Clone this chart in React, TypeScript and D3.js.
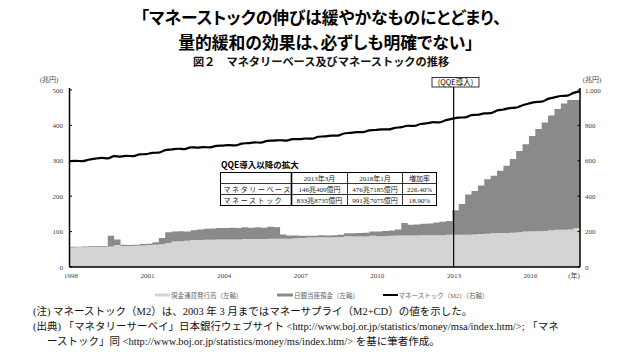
import React from "react";
import * as d3 from "d3";

// ---- data (quarterly, 1998Q1 .. 2017Q4, plus Jan 2018) ----
const startYear = 1998;
const stepYears = 0.25;
// 現金通貨発行高 (兆円, left axis)
const currency = [
  55, 56, 56, 57,
  57, 57, 58, 62,
  59, 59, 60, 61,
  62, 63, 64, 68,
  72, 73, 74, 76,
  76, 77, 77, 78,
  78, 78, 78, 79,
  79, 79, 79, 80,
  80, 80, 80, 81,
  82, 83, 83, 84,
  84, 84, 85, 87,
  86, 86, 86, 88,
  87, 87, 88, 89,
  89, 89, 89, 90,
  90, 90, 90, 91,
  91, 91, 91, 92,
  93, 94, 95, 96,
  96, 97, 98, 100,
  101, 101, 102, 104,
  105, 105, 106, 110,
  111,
];
// 日銀当座預金 (兆円, left axis, stacked)
const currentAccount = [
  2, 1, 2, 2,
  2, 2, 30, 16,
  4, 3, 3, 4,
  4, 7, 18, 30,
  28, 28, 26, 28,
  30, 31, 32, 32,
  32, 33, 32, 33,
  32, 33, 32, 34,
  32, 12, 9, 8,
  6, 5, 5, 6,
  5, 6, 6, 8,
  9, 10, 11, 12,
  13, 15, 15, 17,
  35, 30, 31, 32,
  33, 36, 38, 39,
  69, 87, 114, 123,
  137, 154, 163, 176,
  190, 208, 230, 247,
  269, 289, 306, 324,
  341, 357, 366, 362,
  365,
];
// マネーストック (M2) (兆円, right axis)
const moneyStock = [
  598, 600, 598, 606,
  612, 616, 614, 626,
  624, 628, 626, 636,
  638, 645, 646, 660,
  664, 668, 666, 676,
  675, 677, 676, 684,
  686, 688, 687, 697,
  700, 704, 703, 713,
  714, 716, 714, 722,
  722, 726, 725, 736,
  738, 742, 742, 754,
  758, 762, 762, 772,
  774, 778, 777, 786,
  790, 798, 797, 808,
  812, 818, 817, 830,
  838, 844, 845, 858,
  860, 868, 869, 884,
  890, 898, 900, 914,
  924, 932, 934, 950,
  958, 966, 968, 984,
  992,
];
const qqeDate = 2013.05;
const xTickYears = [1998, 2001, 2004, 2007, 2010, 2013, 2016];
const leftTicks = [0, 100, 200, 300, 400, 500];
const rightTicks = [0, 200, 400, 600, 800, 1000];
const tableHeader = ["", "2013年3月", "2018年1月", "増加率"];
const tableRows = [
  ["マネタリーベース", "146兆409億円", "476兆7185億円", "226.40%"],
  ["マネーストック", "833兆8735億円", "991兆7075億円", "18.90%"],
];
const legendItems = ["現金通貨発行高（左軸）", "日銀当座預金（左軸）", "マネーストック（M2）（右軸）"];

const rows = currency.map((c, i) => ({
  date: startYear + i * stepYears,
  currency: c,
  current: currentAccount[i],
  m2: moneyStock[i],
}));

const SERIF = "'Liberation Serif','Noto Sans CJK JP',serif";
const SANS = "'Noto Sans CJK JP','Noto Sans',sans-serif";

export default function App() {
  const left = 69.5, right = 580, top = 90, bottom = 267;
  const x = d3.scaleLinear().domain([1998, 2018]).range([left, right]);
  const yL = d3.scaleLinear().domain([0, 500]).range([bottom, top]);
  const yR = d3.scaleLinear().domain([0, 1000]).range([bottom, top]);

  const stack = d3.stack<any>().keys(["currency", "current"]);
  const series = stack(rows);
  const area = d3
    .area<any>()
    .x((d) => x(d.data.date))
    .y0((d) => yL(d[0]))
    .y1((d) => yL(d[1]))
    .curve(d3.curveStepAfter);
  const line = d3
    .line<any>()
    .x((d) => x(d.date))
    .y((d) => yR(d.m2))
    .curve(d3.curveMonotoneX);

  const fills = ["#d4d4d4", "#8a8a8a"];
  const fmt = d3.format(",");
  const qx = x(qqeDate);

  // table geometry
  const tX = [220.5, 291.5, 347.5, 402.5, 436.5];
  const tY = [172.5, 183.5, 194.5, 205.5];
  const titleStyle = { fontFeatureSettings: "'palt'" } as any;

  return (
    <svg width={640} height={360} style={{ position: "absolute", left: 0, top: 0, background: "#fff" }}>
      <rect width={640} height={360} fill="#fff" />
      {/* titles */}
      <text x={321} y={24} textAnchor="middle" fontFamily={SANS} fontWeight={700} fontSize={16.8} fill="#000" style={titleStyle}>
        「マネーストックの伸びは緩やかなものにとどまり、
      </text>
      <text x={326} y={49} textAnchor="middle" fontFamily={SANS} fontWeight={700} fontSize={16.8} fill="#000" style={titleStyle}>
        量的緩和の効果は、必ずしも明確でない」
      </text>
      <text x={321} y={66} textAnchor="middle" fontFamily={SANS} fontWeight={700} fontSize={11.2} fill="#111">
        図２　マネタリーベース及びマネーストックの推移
      </text>

      {/* areas */}
      {series.map((s, i) => (
        <path key={i} d={area(s) || ""} fill={fills[i]} />
      ))}

      {/* QQE line */}
      <line x1={qx} x2={qx} y1={bottom} y2={86} stroke="#000" strokeWidth={1.2} />
      <rect x={432} y={77.5} width={47} height={9.5} fill="#fff" stroke="#000" strokeWidth={0.8} />
      <text x={455.5} y={85.3} textAnchor="middle" fontFamily={SANS} fontSize={7.5} fill="#000">
        (QQE導入)
      </text>

      {/* M2 line */}
      <path d={line(rows) || ""} fill="none" stroke="#000" strokeWidth={2.2} strokeLinejoin="round" />

      {/* axes */}
      <line x1={left} x2={left} y1={top - 2} y2={bottom} stroke="#000" strokeWidth={1.5} />
      <line x1={right} x2={right} y1={top - 2} y2={bottom} stroke="#000" strokeWidth={1.5} />
      <line x1={left} x2={right} y1={bottom} y2={bottom} stroke="#000" strokeWidth={1.6} />
      {leftTicks.map((t) => (
        <g key={"l" + t}>
          <line x1={left} x2={left + 2.5} y1={yL(t)} y2={yL(t)} stroke="#000" strokeWidth={1} />
          <text x={63} y={yL(t) + 2.5} textAnchor="end" fontFamily={SERIF} fontSize={7} fill="#444">
            {t}
          </text>
        </g>
      ))}
      {rightTicks.map((t) => (
        <g key={"r" + t}>
          <line x1={right - 2.5} x2={right} y1={yR(t)} y2={yR(t)} stroke="#000" strokeWidth={1} />
          <text x={585} y={yR(t) + 2.5} textAnchor="start" fontFamily={SERIF} fontSize={7} fill="#444">
            {fmt(t)}
          </text>
        </g>
      ))}
      <text x={49} y={82} textAnchor="middle" fontFamily={SERIF} fontSize={7} fill="#444">(兆円)</text>
      <text x={592} y={82} textAnchor="middle" fontFamily={SERIF} fontSize={7} fill="#444">(兆円)</text>
      {xTickYears.map((yv) => (
        <text key={yv} x={x(yv) + 1.5} y={278} textAnchor="middle" fontFamily={SERIF} fontSize={7} fill="#444">
          {yv}
        </text>
      ))}
      <text x={574} y={278} textAnchor="middle" fontFamily={SERIF} fontSize={7} fill="#444">(年)</text>

      {/* table */}
      <text x={221} y={168} fontFamily={SANS} fontWeight={700} fontSize={8.5} fill="#000">QQE導入以降の拡大</text>
      <rect x={tX[0]} y={tY[0]} width={tX[4] - tX[0]} height={tY[3] - tY[0]} fill="#fff" stroke="#000" strokeWidth={1} />
      {tY.slice(1, 3).map((yy) => (
        <line key={yy} x1={tX[0]} x2={tX[4]} y1={yy} y2={yy} stroke="#000" strokeWidth={0.8} />
      ))}
      {tX.slice(1, 4).map((xx, i) => (
        <line key={xx} x1={xx} x2={xx} y1={tY[0]} y2={tY[3]} stroke="#000" strokeWidth={i === 0 ? 1.6 : 0.8} />
      ))}
      {tableHeader.map((h, j) => (
        <text key={"h" + j} x={(tX[j] + tX[j + 1]) / 2} y={tY[0] + 8} textAnchor="middle" fontFamily={SERIF} fontSize={7} fill="#222">
          {h}
        </text>
      ))}
      {tableRows.map((r, i) =>
        r.map((c, j) => (
          <text
            key={i + "-" + j}
            x={j === 0 ? tX[0] + 3 : (tX[j] + tX[j + 1]) / 2}
            y={tY[i + 1] + 8}
            textAnchor={j === 0 ? "start" : "middle"}
            fontFamily={SERIF}
            fontSize={7}
            letterSpacing={j === 0 ? 1.6 : 0}
            fill="#222"
          >
            {c}
          </text>
        ))
      )}

      {/* legend */}
      <line x1={155} x2={170} y1={295} y2={295} stroke="#d4d4d4" strokeWidth={3} />
      <text x={171} y={297.5} fontFamily={SERIF} fontSize={6.5} fill="#666">{legendItems[0]}</text>
      <line x1={277} x2={293} y1={295} y2={295} stroke="#8a8a8a" strokeWidth={3} />
      <text x={294} y={297.5} fontFamily={SERIF} fontSize={6.5} fill="#666">{legendItems[1]}</text>
      <line x1={383} x2={398} y1={295} y2={295} stroke="#000" strokeWidth={2} />
      <text x={398.5} y={297.5} fontFamily={SERIF} fontSize={6.5} fill="#666">{legendItems[2]}</text>

      {/* notes */}
      <text x={33} y={315} fontFamily={SERIF} fontSize={10.5} fill="#111">
        (注) マネーストック（M2）は、2003 年 3 月まではマネーサプライ（M2+CD）の値を示した。
      </text>
      <text x={33} y={330} fontFamily={SERIF} fontSize={10.5} fill="#111">
        (出典) 「マネタリーサーベイ」日本銀行ウェブサイト &lt;http://www.boj.or.jp/statistics/money/msa/index.htm/&gt;; 「マネ
      </text>
      <text x={47} y={345} fontFamily={SERIF} fontSize={10.5} fill="#111">
        ーストック」同 &lt;http://www.boj.or.jp/statistics/money/ms/index.htm/&gt; を基に筆者作成。
      </text>
    </svg>
  );
}
